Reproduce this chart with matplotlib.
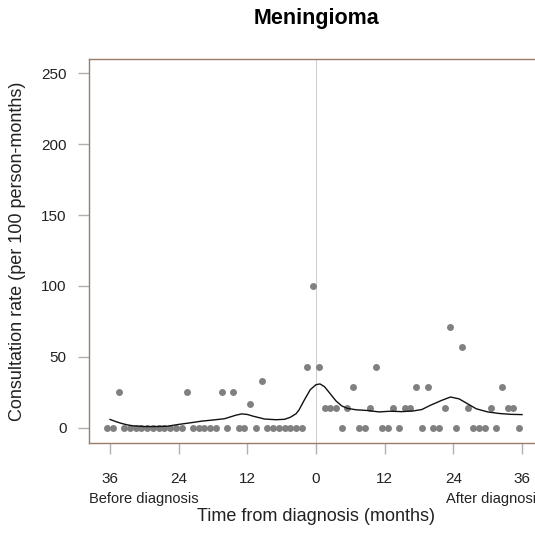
import numpy as np
import matplotlib.pyplot as plt

plt.rcParams['font.family'] = ['Liberation Sans', 'DejaVu Sans']

# monthly consultation rates, before and after diagnosis
months_before = np.arange(-36.5, 0, 1)
rate_before = [0, 0, 25, 0, 0, 0, 0, 0, 0, 0, 0, 0, 0, 0, 25,
               0, 0, 0, 0, 0, 25, 0, 25, 0, 0, 16.7, 0, 33.3, 0,
               0, 0, 0, 0, 0, 0, 42.9, 100]
months_after = np.arange(0.5, 36, 1)
rate_after = [42.9, 14.3, 14.3, 14.3, 0, 14.3, 28.6, 0, 0, 14.3, 42.9, 0,
              0, 14.3, 0, 14.3, 14.3, 28.6, 0, 28.6, 0, 0, 14.3, 71.4,
              0, 57.1, 14.3, 0, 0, 0, 14.3, 0, 28.6, 14.3, 14.3, 0]

# smoothed trend
smooth_x = [-36, -35, -34, -33, -32, -30, -28, -26, -24, -22, -20, -18, -16,
            -14, -13, -12, -11, -10, -9, -7, -5.5, -4.5, -3.5, -3, -2, -1, 0,
            0.7, 1.5, 2.5, 3.5, 4.5, 5.5, 7, 9, 11, 13, 15, 17, 18.5, 20, 22,
            23.5, 25, 26.5, 28, 30, 32, 34, 36]
smooth_y = [6.0, 4.5, 3.2, 2.2, 1.5, 1.0, 1.0, 1.2, 2.5, 3.6, 4.8, 5.6, 6.5,
            9.0, 9.9, 9.5, 8.3, 7.3, 6.3, 5.8, 6.1, 7.5, 10.0, 12.5, 20.0,
            27.0, 30.5, 31.0, 29.0, 24.0, 19.0, 15.5, 13.8, 12.8, 12.3, 11.3,
            11.8, 11.5, 12.0, 13.0, 16.0, 19.5, 21.8, 20.5, 17.0, 13.5, 11.3,
            10.2, 9.6, 9.4]

xticks = [-36, -24, -12, 0, 12, 24, 36]
xtick_labels = ['36', '24', '12', '0', '12', '24', '36']
yticks = [0, 50, 100, 150, 200, 250]

fig = plt.figure(figsize=(5.35, 5.34), dpi=100)
ax = fig.add_axes([0.1664, 0.1704, 0.8486, 0.7191])

ax.axvline(0, color='#d0d0d0', lw=0.8, zorder=1)
ax.plot(months_before, rate_before, 'o', color='#808080', ms=5, mec='none', zorder=2)
ax.plot(months_after, rate_after, 'o', color='#808080', ms=5, mec='none', zorder=2)
ax.plot(smooth_x, smooth_y, color='#151010', lw=1.0, zorder=3)

ax.set_xlim(-39.67, 39.67)
ax.set_ylim(-10.6, 259.9)
ax.set_xticks(xticks)
ax.set_xticklabels(xtick_labels)
ax.set_yticks(yticks)

for s in ax.spines.values():
    s.set_color('#9c7b6c')
    s.set_linewidth(1.0)

ax.tick_params(axis='both', colors='#b0b0b0', length=8, width=1.0,
               labelcolor='#222222', labelsize=11)
ax.tick_params(axis='x', pad=13)
ax.tick_params(axis='y', pad=8)

ax.set_title('Meningioma', fontsize=15.5, fontweight='bold', pad=25.5)
ax.set_ylabel('Consultation rate (per 100 person-months)', fontsize=13,
              color='#222222', labelpad=11)
ax.set_xlabel('Time from diagnosis (months)', fontsize=13, color='#222222',
              labelpad=16)

ax.text(0.0, -0.146, 'Before diagnosis', transform=ax.transAxes, ha='left',
        va='center', fontsize=10.5, color='#222222')
ax.text(1.0, -0.146, 'After diagnosis', transform=ax.transAxes, ha='right',
        va='center', fontsize=10.5, color='#222222')

fig.savefig('out.png', dpi=100)
